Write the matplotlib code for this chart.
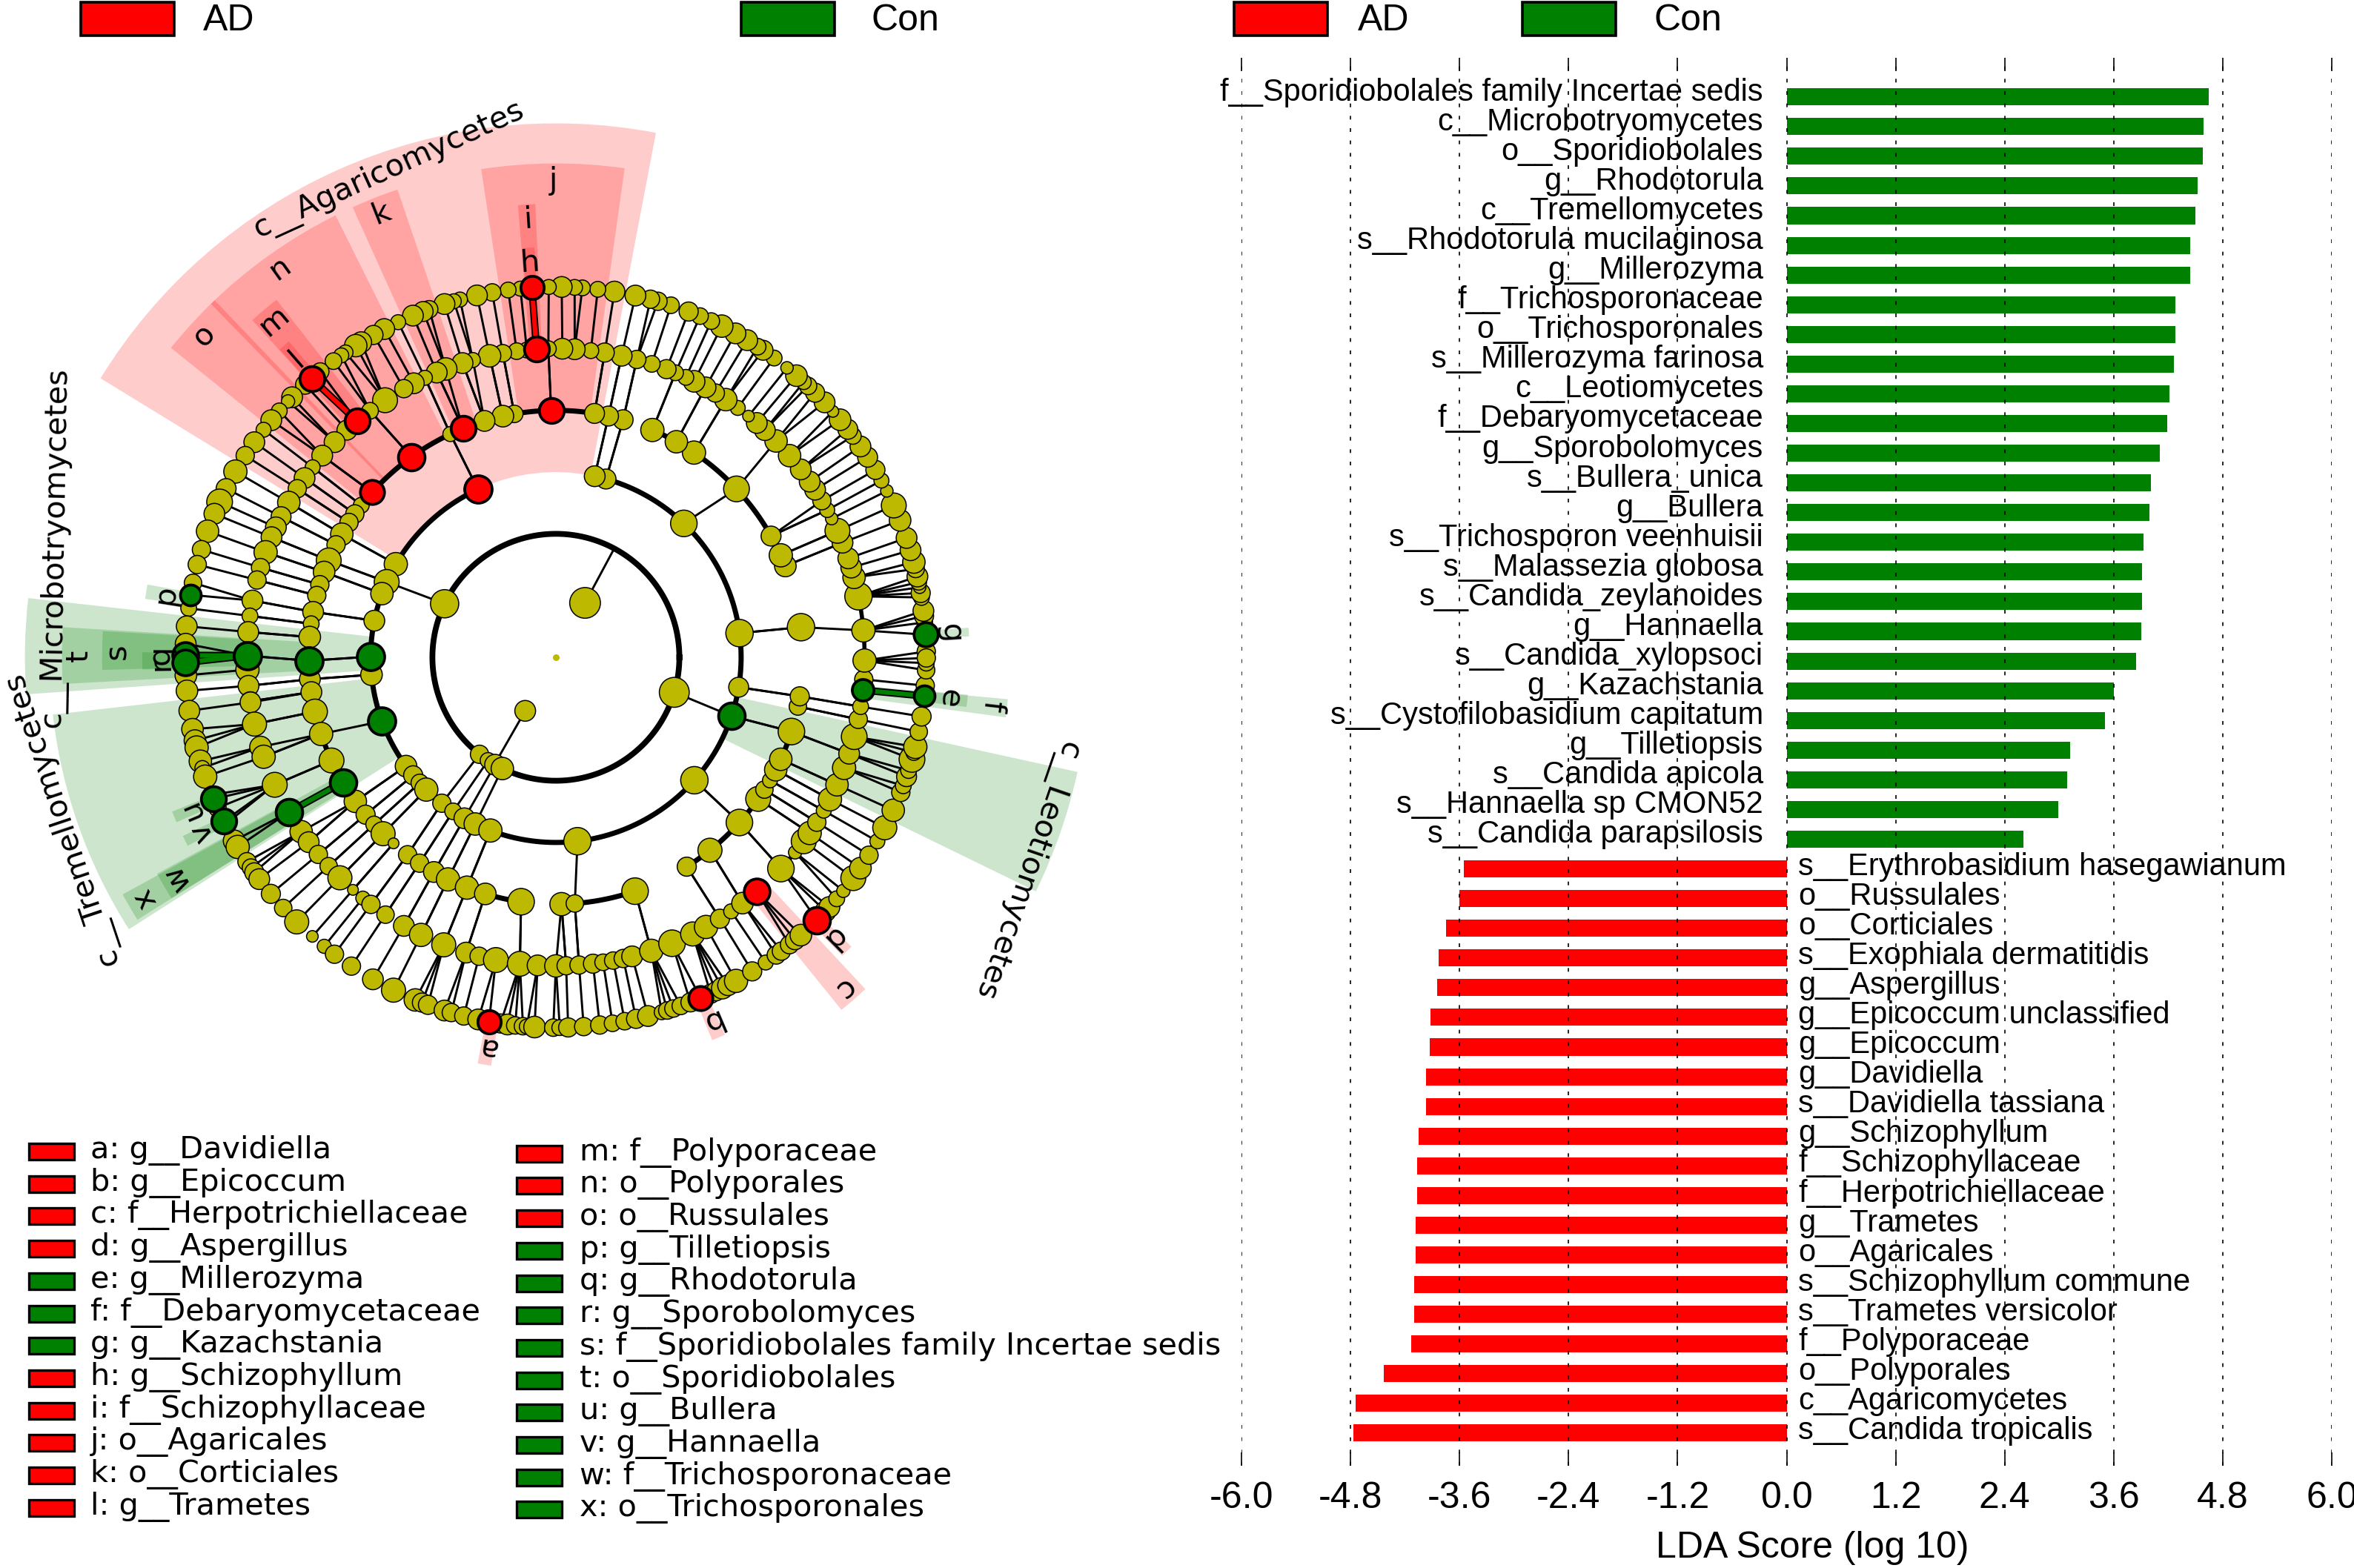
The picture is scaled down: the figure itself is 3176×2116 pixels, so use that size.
import numpy as np
import matplotlib
matplotlib.use("Agg")
import matplotlib.pyplot as plt
from matplotlib.patches import Rectangle, Wedge

FIG_W, FIG_H = 3176, 2116
DPI = 200
RED = "#FF0000"
GREEN = "#008000"
OLIVE = "#BDB900"
PX_PER_RING = 83.3
NODE_SCALE = 1.12

# --- right panel: LDA scores, top to bottom
lda_labels = [
    "f__Sporidiobolales family Incertae sedis", "c__Microbotryomycetes", "o__Sporidiobolales",
    "g__Rhodotorula", "c__Tremellomycetes", "s__Rhodotorula mucilaginosa", "g__Millerozyma",
    "f__Trichosporonaceae", "o__Trichosporonales", "s__Millerozyma farinosa", "c__Leotiomycetes",
    "f__Debaryomycetaceae", "g__Sporobolomyces", "s__Bullera_unica", "g__Bullera",
    "s__Trichosporon veenhuisii", "s__Malassezia globosa", "s__Candida_zeylanoides", "g__Hannaella",
    "s__Candida_xylopsoci", "g__Kazachstania", "s__Cystofilobasidium capitatum", "g__Tilletiopsis",
    "s__Candida apicola", "s__Hannaella sp CMON52", "s__Candida parapsilosis",
    "s__Erythrobasidium hasegawianum", "o__Russulales", "o__Corticiales", "s__Exophiala dermatitidis",
    "g__Aspergillus", "g__Epicoccum unclassified", "g__Epicoccum", "g__Davidiella",
    "s__Davidiella tassiana", "g__Schizophyllum", "f__Schizophyllaceae", "f__Herpotrichiellaceae",
    "g__Trametes", "o__Agaricales", "s__Schizophyllum commune", "s__Trametes versicolor",
    "f__Polyporaceae", "o__Polyporales", "c__Agaricomycetes", "s__Candida tropicalis",
]
lda_scores = [
    4.645, 4.59, 4.58, 4.52, 4.50, 4.44, 4.44, 4.28, 4.28, 4.26, 4.21, 4.19, 4.11,
    4.01, 3.99, 3.93, 3.91, 3.91, 3.90, 3.85, 3.60, 3.50, 3.12, 3.09, 2.99, 2.61,
    -3.55, -3.60, -3.75, -3.83, -3.85, -3.92, -3.93, -3.97, -3.97, -4.05, -4.07, -4.07,
    -4.08, -4.08, -4.10, -4.10, -4.135, -4.43, -4.74, -4.77,
]
lda_ticks = [-6.0, -4.8, -3.6, -2.4, -1.2, 0.0, 1.2, 2.4, 3.6, 4.8, 6.0]

# --- cladogram legend
key_letters = list("abcdefghijklmnopqrstuvwx")
key_names = [
    "g__Davidiella", "g__Epicoccum", "f__Herpotrichiellaceae", "g__Aspergillus", "g__Millerozyma",
    "f__Debaryomycetaceae", "g__Kazachstania", "g__Schizophyllum", "f__Schizophyllaceae",
    "o__Agaricales", "o__Corticiales", "g__Trametes", "f__Polyporaceae", "o__Polyporales",
    "o__Russulales", "g__Tilletiopsis", "g__Rhodotorula", "g__Sporobolomyces",
    "f__Sporidiobolales family Incertae sedis", "o__Sporidiobolales", "g__Bullera", "g__Hannaella",
    "f__Trichosporonaceae", "o__Trichosporonales",
]
key_groups = list("RRRRGGGRRRRRRRRGGGGGGGGG")

# --- cladogram nodes: angle (deg) and abundance size per taxonomic ring
ring1_angles = [61.8, 240.2]
ring1_sizes = [37, 25]
ring2_angles = [154.3, 231.8, 236.7, 240.5, 244.3, 343.5]
ring2_sizes = [34, 22, 19, 25, 27, 36]
ring3_angles = [7.5, 46.3, 74.3, 77.9, 114.9, 149.8, 156.0, 159.9, 168.6, 179.8, 185.4, 200.2, 216.0,
                219.6, 222.7, 225.6, 232.0, 236.3, 240.4, 244.2, 249.3, 276.7, 318.4, 341.5, 350.7]
ring3_sizes = [33, 32, 24, 25, 33, 28, 30, 27, 25, 33, 26, 33, 26, 23, 21, 28, 22, 20, 25, 27, 28, 33, 33, 32, 24]
ring4_angles = [7.0, 21.7, 24.4, 29.4, 43.0, 56.0, 60.8, 67.0, 74.2, 77.7, 81.0, 91.1, 99.7, 102.4, 106.8,
                112.1, 115.3, 125.8, 138.1, 142.0, 144.5, 146.9, 150.1, 152.9, 156.9, 159.8, 162.9, 165.5,
                169.4, 172.2, 175.3, 180.8, 185.1, 188.1, 192.7, 198.1, 204.7, 210.4, 215.7, 219.6, 222.6,
                225.6, 228.9, 233.1, 236.5, 240.4, 244.1, 248.9, 253.4, 261.9, 271.3, 274.4, 288.7, 302.0,
                308.6, 318.0, 325.0, 327.6, 330.1, 332.9, 335.6, 342.5, 348.5, 350.9]
ring4_sizes = [33, 26, 28, 24, 31, 28, 27, 28, 24, 24, 24, 30, 21, 26, 25, 30, 18, 32, 29, 19, 22, 22, 27, 22, 30,
               26, 22, 22, 25, 19, 26, 33, 25, 25, 30, 28, 30, 32, 27, 23, 20, 29, 13, 22, 22, 25, 28, 28, 26, 32,
               28, 21, 32, 23, 29, 32, 30, 21, 18, 27, 27, 32, 21, 23]
ring5_angles = [5.0, 11.4, 15.0, 16.9, 18.7, 21.8, 24.2, 26.7, 28.5, 30.5, 32.9, 34.7, 37.5, 40.8, 44.5, 47.4,
                49.4, 51.4, 53.9, 56.6, 58.9, 61.0, 63.4, 65.1, 67.2, 69.0, 71.9, 74.8, 77.7, 80.9, 83.5, 86.5,
                88.8, 91.4, 93.6, 95.4, 97.3, 99.9, 102.4, 105.6, 107.6, 110.9, 112.7, 115.1, 117.4, 119.5,
                123.6, 127.0, 130.1, 132.6, 135.8, 139.2, 142.0, 144.5, 146.9, 149.9, 152.9, 155.1, 157.1,
                160.1, 163.1, 165.5, 169.4, 172.3, 175.3, 179.7, 182.3, 185.3, 188.2, 188.4, 192.5, 196.9,
                198.8, 204.4, 210.1, 214.4, 216.8, 219.7, 222.6, 225.6, 228.9, 231.3, 233.2, 236.5, 240.5,
                244.1, 248.7, 253.1, 255.6, 258.8, 263.3, 266.6, 270.0, 271.9, 274.3, 276.9, 278.8, 280.7,
                282.6, 284.3, 288.0, 292.1, 296.3, 299.1, 302.1, 304.6, 307.2, 310.6, 316.8, 320.8, 323.4,
                325.3, 327.7, 330.2, 332.6, 335.6, 339.0, 341.8, 345.1, 348.4, 350.8, 353.9, 355.9, 359.4]
ring5_sizes = [28, 33, 27, 25, 25, 25, 30, 15, 18, 22, 25, 25, 25, 27, 27, 25, 25, 14, 18, 27, 22, 25, 26, 19, 19,
               23, 20, 22, 25, 23, 19, 25, 25, 19, 30, 19, 20, 21, 27, 18, 25, 27, 25, 18, 25, 22, 30, 20, 30, 24,
               25, 25, 18, 25, 22, 27, 24, 25, 25, 28, 22, 22, 25, 19, 25, 33, 28, 25, 23, 25, 29, 26, 28, 30, 32,
               27, 25, 22, 21, 29, 13, 17, 22, 21, 25, 28, 29, 25, 22, 30, 30, 25, 27, 22, 22, 23, 20, 21, 22, 25,
               28, 32, 29, 28, 23, 18, 26, 31, 32, 16, 30, 28, 22, 18, 28, 27, 28, 25, 31, 22, 19, 26, 22, 28]
ring6_angles = [0.9, 3.5, 5.4, 6.4, 7.2, 9.3, 10.0, 10.9, 11.7, 12.6, 13.8, 14.9, 16.8, 18.8, 21.7, 24.2, 26.7,
                28.5, 30.4, 32.7, 34.7, 36.7, 38.0, 39.9, 41.6, 43.5, 45.6, 47.1, 48.0, 49.5, 51.4, 53.9, 56.0,
                57.0, 58.9, 61.0, 63.4, 65.2, 67.1, 69.0, 71.9, 74.0, 75.2, 77.6, 80.9, 83.5, 85.9, 87.1, 89.1,
                91.1, 93.7, 95.5, 97.4, 99.9, 102.3, 105.0, 106.0, 107.5, 110.0, 111.0, 112.7, 115.2, 117.6,
                119.5, 121.7, 122.7, 124.6, 125.4, 126.9, 129.5, 131.2, 132.6, 135.4, 136.3, 138.3, 140.2,
                142.1, 144.5, 147.0, 149.9, 152.9, 155.2, 157.2, 160.1, 163.1, 165.5, 168.4, 170.3, 172.4,
                175.2, 177.9, 179.7, 180.8, 182.8, 185.2, 188.3, 191.2, 193.0, 194.1, 196.3, 197.4, 198.8,
                201.8, 202.5, 204.0, 206.3, 206.8, 209.7, 210.8, 213.5, 214.6, 215.5, 216.8, 219.7, 222.6,
                225.6, 228.9, 231.3, 233.3, 236.5, 240.4, 244.0, 247.7, 248.8, 249.8, 252.5, 253.6, 255.6,
                257.9, 259.6, 261.4, 262.5, 263.7, 264.9, 265.5, 266.7, 269.6, 270.6, 271.9, 274.3, 276.8,
                278.8, 280.7, 282.5, 284.4, 286.6, 287.5, 288.5, 289.7, 291.3, 293.0, 294.7, 295.6, 296.7,
                297.7, 299.1, 302.0, 304.5, 306.5, 307.5, 309.1, 310.2, 311.4, 314.8, 316.7, 317.6, 319.3,
                320.9, 323.4, 325.3, 327.7, 330.2, 332.6, 335.6, 338.6, 339.7, 341.2, 342.2, 344.0, 345.1,
                346.0, 348.4, 350.8, 354.0, 355.6, 358.0, 359.1, 359.9]
ring6_sizes = [22, 29, 19, 23, 25, 19, 23, 15, 19, 25, 21, 27, 25, 25, 26, 30, 15, 18, 23, 24, 25, 20, 24, 26, 14,
               25, 23, 21, 18, 26, 15, 19, 24, 20, 25, 25, 27, 20, 20, 23, 20, 22, 22, 25, 25, 19, 19, 19, 25, 18,
               28, 18, 19, 21, 25, 18, 18, 25, 21, 24, 25, 18, 25, 23, 25, 27, 18, 18, 20, 21, 30, 23, 25, 16, 19,
               25, 18, 25, 22, 28, 24, 31, 25, 27, 22, 22, 21, 25, 19, 25, 25, 31, 31, 26, 26, 25, 26, 26, 28, 27,
               18, 28, 21, 30, 21, 30, 25, 26, 28, 22, 21, 23, 25, 23, 21, 29, 14, 17, 22, 22, 25, 29, 27, 23, 23,
               25, 22, 22, 25, 28, 23, 25, 21, 21, 18, 26, 21, 19, 23, 22, 22, 20, 21, 23, 25, 18, 21, 21, 21, 23,
               29, 23, 23, 26, 25, 28, 23, 18, 22, 22, 22, 23, 26, 32, 25, 25, 19, 16, 30, 26, 22, 18, 29, 27, 22,
               19, 24, 19, 31, 19, 28, 21, 23, 25, 22, 21, 19, 22]

ring_angles = {1: ring1_angles, 2: ring2_angles, 3: ring3_angles, 4: ring4_angles, 5: ring5_angles, 6: ring6_angles}
ring_sizes = {1: ring1_sizes, 2: ring2_sizes, 3: ring3_sizes, 4: ring4_sizes, 5: ring5_sizes, 6: ring6_sizes}

# (ring, start angle, end angle) of the heavy connecting arcs
clade_arcs = [
    (3, 114.9, 225.6), (3, 244.2, 437.9),
    (4, 81.0, 138.1), (4, 21.7, 67.0), (4, 271.3, 288.7), (4, 248.9, 261.9), (4, 222.6, 225.6),
    (4, 198.1, 210.4), (4, 302.0, 325.0), (4, 335.6, 342.5),
    (5, 353.9, 371.4), (5, 316.8, 320.8),
]
# enriched nodes: (ring, angle)
red_nodes = [(6, 259.6), (6, 293.0), (6, 314.8), (6, 93.7), (6, 131.2), (5, 310.6), (5, 93.6), (5, 130.1),
             (4, 112.1), (4, 125.8), (4, 138.1), (4, 91.1), (3, 114.9)]
green_nodes = [(6, 170.3), (6, 179.7), (6, 180.8), (6, 354.0), (6, 3.5), (6, 202.5), (6, 206.3), (5, 179.7),
               (5, 210.1), (5, 353.9), (4, 180.8), (4, 210.4), (3, 179.8), (3, 200.2), (3, 341.5)]
# heavy coloured links: (ring of parent, parent angle, child angle, group)
heavy_links = [(5, 93.6, 93.7, RED), (5, 130.1, 131.2, RED), (5, 179.7, 179.7, GREEN), (5, 179.7, 180.8, GREEN),
               (5, 353.9, 354.0, GREEN), (4, 210.4, 210.1, GREEN)]
# shaded clades: (start angle, end angle, inner ring, outer ring, group)
shades = [
    (79.2, 148.5, 3.0, 8.65, RED), (133.7, 141.2, 4.0, 8.0, RED), (116.5, 134.3, 4.0, 8.0, RED),
    (108.7, 114.3, 4.0, 8.0, RED), (82.0, 98.7, 4.0, 8.0, RED), (128.0, 132.0, 5.0, 7.35, RED),
    (130.2, 131.9, 6.0, 6.7, RED), (92.6, 94.8, 5.0, 7.35, RED), (93.0, 94.6, 6.0, 6.65, RED),
    (309.0, 313.0, 5.0, 7.35, RED), (259.1, 261.0, 6.0, 6.7, RED), (292.2, 294.1, 6.0, 6.7, RED),
    (313.8, 315.6, 6.0, 6.7, RED),
    (173.6, 184.0, 3.0, 8.6, GREEN), (176.5, 183.1, 4.0, 8.0, GREEN), (176.7, 181.6, 5.0, 7.35, GREEN),
    (179.3, 181.7, 6.0, 6.7, GREEN), (169.9, 171.9, 6.0, 6.72, GREEN), (186.5, 212.5, 3.0, 8.2, GREEN),
    (208.7, 212.1, 4.0, 8.0, GREEN), (208.5, 212.1, 5.0, 7.35, GREEN), (201.9, 203.5, 6.0, 6.7, GREEN),
    (205.6, 207.1, 6.0, 6.7, GREEN), (334.0, 347.6, 3.0, 8.65, GREEN), (352.4, 354.7, 5.0, 7.35, GREEN),
    (353.1, 354.8, 6.0, 6.7, GREEN), (2.9, 4.1, 6.0, 6.7, GREEN),
]
# small letters on the shaded clades: (letter, angle, radius in rings)
clade_letters = [
    ("a", 260.0, 6.4), ("b", 293.1, 6.4), ("c", 310.9, 7.1), ("d", 314.6, 6.4), ("e", 354.0, 6.4), ("f", 353.5, 7.1),
    ("g", 3.5, 6.4), ("h", 93.8, 6.4), ("i", 93.7, 7.1), ("j", 90.3, 7.72), ("k", 111.5, 7.72), ("l", 131.0, 6.4),
    ("m", 130.0, 7.1), ("n", 125.4, 7.72), ("o", 137.5, 7.72), ("p", 170.9, 6.4), ("q", 179.7, 6.4), ("r", 181.0, 6.4),
    ("s", 179.2, 7.1), ("t", 179.8, 7.72), ("u", 202.7, 6.4), ("v", 206.3, 6.4), ("w", 210.3, 7.1), ("x", 210.4, 7.72),
]
# class names: (text, angle, radius, rotation)
class_names = [
    ("c__Agaricomycetes", 108.9, 8.35, 24.5), ("c__Microbotryomycetes", 167.6, 8.3, 89.0),
    ("c__Tremellomycetes", 198.1, 8.42, 108.5), ("c__Leotiomycetes", 335.6, 8.37, 251.0),
]


def polar(ring, angle):
    theta = np.radians(np.asarray(angle, dtype=float))
    return ring * np.cos(theta), ring * np.sin(theta)


def arc_xy(ring, start, end):
    angles = np.linspace(start, end, max(int(abs(end - start)) * 2, 8))
    return polar(ring, angles)


def draw_links(ax, ring_a, angles_a, ring_b, angles_b):
    for a, b in zip(angles_a, angles_b):
        xa, ya = polar(ring_a, a)
        xb, yb = polar(ring_b, b)
        ax.plot([xa, xb], [ya, yb], color="k", lw=1.05, zorder=2, solid_capstyle="round")


def nearest(values, target):
    values = np.asarray(values)
    diff = np.abs((values - target + 180) % 360 - 180)
    return values[np.argmin(diff)], diff.min()


def node_area(sizes):
    return (np.asarray(sizes, dtype=float) * NODE_SCALE * 72 / DPI) ** 2


def draw_cladogram(ax):
    for start, end, inner, outer, colour in shades:
        ax.add_patch(Wedge((0, 0), outer, start, end, width=outer - inner,
                           facecolor=colour, edgecolor="none", alpha=0.2, zorder=1))

    # ring 2 is closed, the others only join siblings
    x, y = arc_xy(2, 0, 360)
    ax.plot(x, y, color="k", lw=2.8, zorder=2)
    for ring, start, end in clade_arcs:
        x, y = arc_xy(ring, start, end)
        ax.plot(x, y, color="k", lw=2.5 if ring < 5 else 2.0, zorder=2)

    draw_links(ax, 1, ring1_angles, 2, ring1_angles)
    for ring in (2, 3, 4):
        # each parent reaches its closest child
        parents = ring_angles[ring]
        kids = [nearest(ring_angles[ring + 1], p)[0] for p in parents]
        draw_links(ax, ring, parents, ring + 1, kids)
    for ring in (3, 4):
        # children sitting straight above a parent get their own line
        parents, kids = [], []
        for k in ring_angles[ring + 1]:
            p, gap = nearest(ring_angles[ring], k)
            if gap < 1.5:
                parents.append(p)
                kids.append(k)
        draw_links(ax, ring, parents, ring + 1, kids)
    parents = [nearest(ring5_angles, k)[0] for k in ring6_angles]
    draw_links(ax, 5, parents, 6, ring6_angles)

    for ring, parent, child, colour in heavy_links:
        xa, ya = polar(ring, parent)
        xb, yb = polar(ring + 1, child)
        ax.plot([xa, xb], [ya, yb], color="k", lw=3.6, zorder=2.5)
        ax.plot([xa, xb], [ya, yb], color=colour, lw=2.2, zorder=2.6)

    coloured = {(r, a): RED for r, a in red_nodes}
    coloured.update({(r, a): GREEN for r, a in green_nodes})
    for ring in ring_angles:
        x, y = polar(ring, ring_angles[ring])
        ax.scatter(x, y, s=node_area(ring_sizes[ring]), c=OLIVE, edgecolors="k", linewidths=0.55, zorder=3)
    ax.scatter([0], [0], s=node_area([8]), c=OLIVE, linewidths=0, zorder=3)

    sizes = {}
    for ring in ring_angles:
        sizes.update({(ring, a): d for a, d in zip(ring_angles[ring], ring_sizes[ring])})
    for (ring, angle), colour in coloured.items():
        x, y = polar(ring, angle)
        ax.scatter([x], [y], s=node_area([sizes[(ring, angle)]]), c=colour,
                   edgecolors="k", linewidths=1.35, zorder=4)

    for letter, angle, radius in clade_letters:
        x, y = polar(radius, angle)
        ax.text(x, y, letter, rotation=angle - 90, rotation_mode="anchor", ha="center", va="center",
                fontsize=14.9, zorder=5, clip_on=False)
    for name, angle, radius, rotation in class_names:
        x, y = polar(radius, angle)
        ax.text(x, y, name, rotation=rotation, rotation_mode="anchor", ha="center", va="center",
                fontsize=14.9, zorder=5, clip_on=False)


def figure_box(fig, x0, y0, x1, y1, colour, lw=1.3):
    fig.add_artist(Rectangle((x0 / FIG_W, 1 - y1 / FIG_H), (x1 - x0) / FIG_W, (y1 - y0) / FIG_H,
                             transform=fig.transFigure, facecolor=colour, edgecolor="k", linewidth=lw))


def figure_label(fig, x, y, text, **kwargs):
    fig.text(x / FIG_W, 1 - y / FIG_H, text, va="baseline", **kwargs)


def draw_keys(fig):
    sans = "Liberation Sans"
    for x0, x_text, colour, name in ((109, 274, RED, "AD"), (1000, 1175, GREEN, "Con"),
                                     (1665, 1832, RED, "AD"), (2054, 2231, GREEN, "Con")):
        figure_box(fig, x0, 3, x0 + 126, 48, colour)
        figure_label(fig, x_text, 41, name, family=sans, fontsize=18)

    for i, (letter, name, group) in enumerate(zip(key_letters, key_names, key_groups)):
        col, row = divmod(i, 12)
        x_box = (39, 697)[col]
        x_text = (122, 782)[col]
        y_mid = (1554, 1556.7)[col] + row * 43.7
        colour = RED if group == "R" else GREEN
        figure_box(fig, x_box, y_mid - 11, x_box + 61, y_mid + 11, colour, lw=1.2)
        figure_label(fig, x_text, y_mid + 9, f"{letter}: {name}", fontsize=14.9)


def draw_lda(fig):
    left, right = 1675, 3146
    top, bottom = 78, 1978
    ax = fig.add_axes([left / FIG_W, 1 - bottom / FIG_H, (right - left) / FIG_W, (bottom - top) / FIG_H])
    rows = np.arange(len(lda_scores))
    scores = np.asarray(lda_scores)
    ax.barh(rows, scores, height=0.575, color=[GREEN if s > 0 else RED for s in scores], linewidth=0, zorder=1)
    ax.set_xlim(-6.0, 6.0)
    ax.set_ylim(46.1, -1.315)
    ax.set_yticks([])
    ax.set_xticks(lda_ticks)
    ax.set_xticklabels([f"{t:.1f}" for t in lda_ticks], family="Liberation Sans", fontsize=18)
    ax.tick_params(axis="x", top=True, bottom=True, direction="in", length=6.5, width=0.6, pad=7.5)
    ax.grid(axis="x", color="k", lw=0.6, linestyle=(0, (3.0, 7.0)))
    ax.set_axisbelow(False)
    for spine in ax.spines.values():
        spine.set_visible(False)
    for row, score, label in zip(rows, scores, lda_labels):
        if score > 0:
            ax.text(-0.257, row - 0.15, label, ha="right", va="center", family="Liberation Sans",
                    fontsize=15.0, zorder=5)
        else:
            ax.text(0.127, row - 0.07, label, ha="left", va="center", family="Liberation Sans",
                    fontsize=15.0, zorder=5)
    figure_label(fig, 2445, 2102, "LDA Score (log 10)", family="Liberation Sans", fontsize=18, ha="center")


def main():
    fig = plt.figure(figsize=(FIG_W / DPI, FIG_H / DPI), dpi=DPI)
    # cladogram axes, one data unit is one taxonomic ring
    x0, x1, y0, y1 = 0, 1590, 0, 1520
    ax = fig.add_axes([x0 / FIG_W, 1 - y1 / FIG_H, (x1 - x0) / FIG_W, (y1 - y0) / FIG_H])
    ax.set_xlim((x0 - 750) / PX_PER_RING, (x1 - 750) / PX_PER_RING)
    ax.set_ylim((887 - y1) / PX_PER_RING, (887 - y0) / PX_PER_RING)
    ax.axis("off")
    draw_cladogram(ax)
    draw_keys(fig)
    draw_lda(fig)
    fig.savefig("out.png", dpi=DPI)


if __name__ == "__main__":
    main()
